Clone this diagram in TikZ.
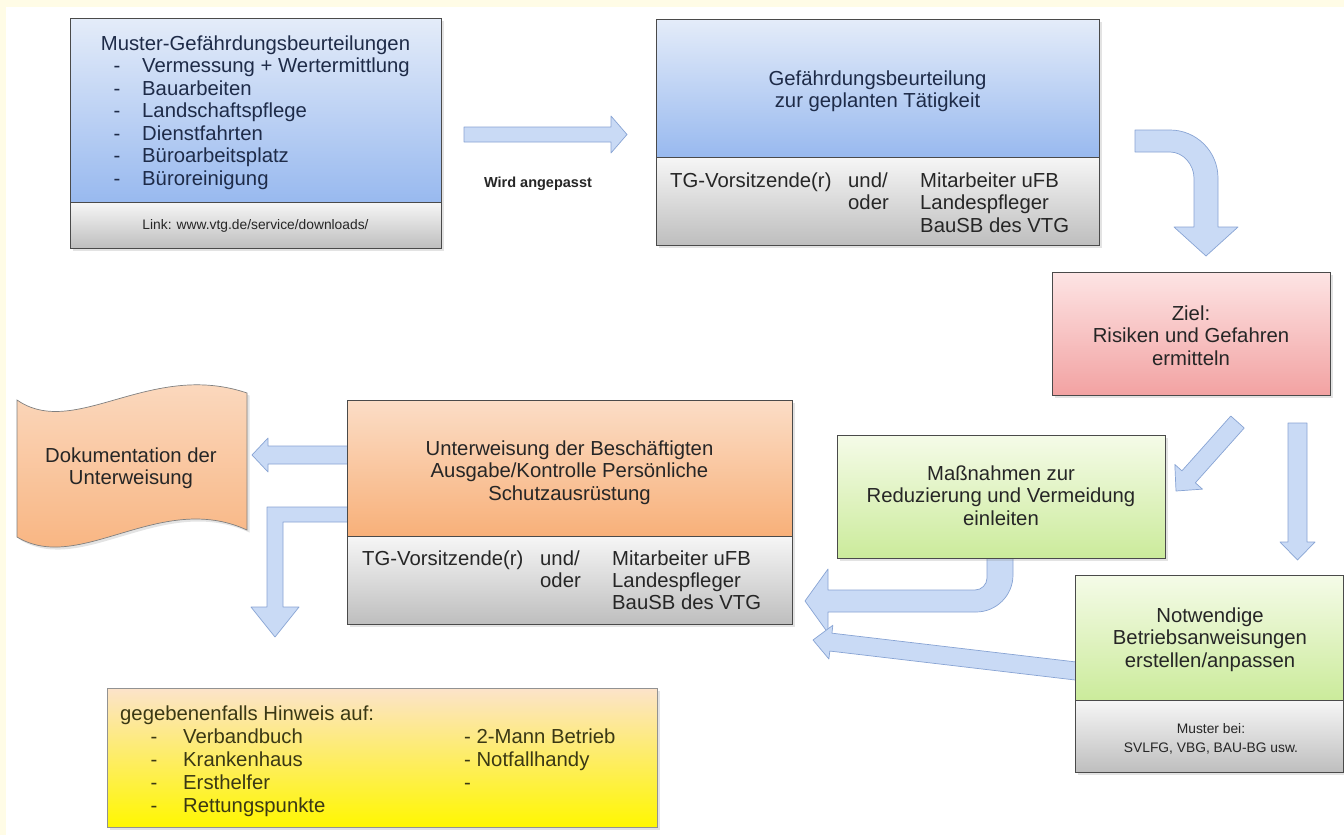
\documentclass[tikz,border=0pt]{standalone}
\usepackage{fontspec}
\setmainfont{Liberation Sans}
\usetikzlibrary{calc,shadows}
\definecolor{cream}{HTML}{FFFCE6}
\definecolor{blueTop}{HTML}{E4ECF9}
\definecolor{blueBot}{HTML}{98B9EF}
\definecolor{grayTop}{HTML}{F6F6F6}
\definecolor{grayBot}{HTML}{BEBEBE}
\definecolor{pinkTop}{HTML}{FDE4E4}
\definecolor{pinkBot}{HTML}{F2A2A2}
\definecolor{greenTop}{HTML}{F5FBE8}
\definecolor{greenBot}{HTML}{CBEB9B}
\definecolor{orTop}{HTML}{FBDDC6}
\definecolor{orBot}{HTML}{F8B079}
\definecolor{yelTop}{HTML}{FCE3CA}
\definecolor{yelBot}{HTML}{FFF700}
\definecolor{arrowFill}{HTML}{C9DAF5}
\definecolor{arrowLine}{HTML}{88A4D4}
\definecolor{boxline}{HTML}{4A4A4A}
\definecolor{textdark}{HTML}{262626}
\definecolor{textblue}{HTML}{1E2B48}
\definecolor{textolive}{HTML}{3A3814}
\newcommand\fbg{\fontsize{20.3}{22.5}\selectfont}
\newcommand\fsm{\fontsize{13.8}{16}\selectfont}
\newcommand\blockarrow[5]{%
  \coordinate (hb) at ($(#2)!#5!(#1)$);
  \path[barrow] ($(#1)!#3!90:(#2)$) -- ($(hb)!#3!90:(#2)$) -- ($(hb)!#4!90:(#2)$)
    -- (#2) -- ($(hb)!#4!-90:(#2)$) -- ($(hb)!#3!-90:(#2)$) -- ($(#1)!#3!-90:(#2)$) -- cycle;}
\tikzset{
  basebox/.style={draw=boxline, line width=0.7pt, inner sep=0pt, anchor=north west,
    drop shadow={opacity=0.22, shadow xshift=2.5pt, shadow yshift=-2.5pt}},
  bluebox/.style={basebox, top color=blueTop, bottom color=blueBot},
  graybox/.style={basebox, top color=grayTop, bottom color=grayBot},
  pinkbox/.style={basebox, top color=pinkTop, bottom color=pinkBot},
  greenbox/.style={basebox, top color=greenTop, bottom color=greenBot},
  orbox/.style={basebox, top color=orTop, bottom color=orBot},
  yelbox/.style={basebox, top color=yelTop, bottom color=yelBot},
  txt/.style={inner sep=0pt, anchor=base, font=\fbg, text=textdark},
  txtw/.style={txt, anchor=base west},
  btxt/.style={txt, text=textblue},
  btxtw/.style={txtw, text=textblue},
  smalltxt/.style={inner sep=0pt, anchor=base, font=\fsm, text=textdark},
  barrow/.style={fill=arrowFill, draw=arrowLine, line width=0.7pt, line join=round},
}
\begin{document}
\begin{tikzpicture}[x=1pt,y=-1pt]
\useasboundingbox (0,0) rectangle (1344,835);
\fill[cream] (0,0) rectangle (1344,835);
\fill[white] (6,7) rectangle (1344,835);

% ---------- arrows (drawn below boxes) ----------
\coordinate (a1s) at (464,134.5);
\coordinate (a1e) at (627,134.5);
\blockarrow{a1s}{a1e}{7.5pt}{18.5pt}{16pt}
% curved arrow box2 -> Ziel
\path[barrow] (1135,130) -- (1170,130) .. controls (1196.5,130) and (1218,151.5) .. (1218,178)
  -- (1218,227) -- (1238,227) -- (1206,256) -- (1174,227) -- (1194,227) -- (1194,178)
  .. controls (1194,164.7) and (1183.3,152) .. (1170,152) -- (1135,152) -- cycle;
% Ziel -> Massnahmen (diagonal)
\coordinate (a3s) at (1237.5,422);
\coordinate (a3e) at (1176,491);
\blockarrow{a3s}{a3e}{9pt}{18.5pt}{19pt}
% Ziel -> Notwendige (vertical)
\coordinate (a4s) at (1297.5,423);
\coordinate (a4e) at (1297.5,560);
\blockarrow{a4s}{a4e}{9.5pt}{17.5pt}{18pt}
% Massnahmen -> Unterweisung (curved)
\path[barrow] (987,550) -- (1013,550) -- (1013,575) .. controls (1013,595.4) and (996.4,612) .. (976,612)
  -- (828,612) -- (828,633) -- (805,601) -- (828,569) -- (828,590) -- (975,590)
  .. controls (981.6,590) and (987,584.6) .. (987,578) -- cycle;
% Notwendige -> Unterweisung
\coordinate (a6s) at (1080,671.5);
\coordinate (a6e) at (813,640);
\blockarrow{a6s}{a6e}{9pt}{17pt}{18pt}
% Unterweisung -> Dokumentation
\coordinate (a7s) at (350,455);
\coordinate (a7e) at (252,455);
\blockarrow{a7s}{a7e}{9pt}{17pt}{16pt}
% Unterweisung -> Hinweis (L-shaped)
\path[barrow] (350,507) -- (267,507) -- (267,607) -- (251,607) -- (275,637) -- (299,607)
  -- (283,607) -- (283,522) -- (350,522) -- cycle;

% ---------- Box 1 ----------
\node[bluebox, minimum width=371pt, minimum height=184pt] (b1) at (70,18) {};
\node[graybox, minimum width=371pt, minimum height=46pt] (b1f) at (70,202) {};
\node[btxt] (b1t) at (255.5,50) {Muster-Gefährdungsbeurteilungen};
\foreach \yy/\tt [count=\k] in {72.5/Vermessung + Wertermittlung, 95/Bauarbeiten,
  117.5/Landschaftspflege, 140/Dienstfahrten, 162.5/Büroarbeitsplatz, 185/Büroreinigung}{
  \node[btxt] (b1d\k) at (117,\yy) {-};
  \node[btxtw] (b1i\k) at (142,\yy) {\tt};
}
\node[smalltxt] (b1l) at (255.5,229) {Link: www.vtg.de/service/downloads/};

\node[inner sep=0pt, anchor=base, font=\fontsize{14.5}{16}\selectfont\bfseries, text=textdark] (wa) at (538,187) {Wird angepasst};

% ---------- Box 2 ----------
\node[bluebox, minimum width=443pt, minimum height=138pt] (b2) at (656,19) {};
\node[graybox, minimum width=443pt, minimum height=88pt] (b2f) at (656,157) {};
\node[btxt] (b2t1) at (877.5,85) {Gefährdungsbeurteilung};
\node[btxt] (b2t2) at (877.5,107) {zur geplanten Tätigkeit};
\node[txtw] (b2c1) at (670,187) {TG-Vorsitzende(r)};
\node[txtw] (b2c2a) at (848,187) {und/};
\node[txtw] (b2c2b) at (848,209.5) {oder};
\node[txtw] (b2c3a) at (920,187) {Mitarbeiter uFB};
\node[txtw] (b2c3b) at (920,209.5) {Landespfleger};
\node[txtw] (b2c3c) at (920,232) {BauSB des VTG};

% ---------- Ziel ----------
\node[pinkbox, minimum width=278pt, minimum height=123pt] (ziel) at (1052,272) {};
\node[txt] (z1) at (1191,320) {Ziel:};
\node[txt] (z2) at (1191,342.5) {Risiken und Gefahren};
\node[txt] (z3) at (1191,365) {ermitteln};

% ---------- Massnahmen ----------
\node[greenbox, minimum width=328pt, minimum height=123pt] (mass) at (837,435) {};
\node[txt] (m1) at (1001,480) {Maßnahmen zur};
\node[txt] (m2) at (1001,502.5) {Reduzierung und Vermeidung};
\node[txt] (m3) at (1001,525) {einleiten};

% ---------- Notwendige ----------
\node[greenbox, minimum width=268pt, minimum height=125pt] (notw) at (1075,575) {};
\node[graybox, minimum width=268pt, minimum height=72pt] (notwf) at (1075,700) {};
\node[txt] (n1) at (1210,622) {Notwendige};
\node[txt] (n2) at (1210,644.5) {Betriebsanweisungen};
\node[txt] (n3) at (1210,667) {erstellen/anpassen};
\node[smalltxt] (n4) at (1211,733) {Muster bei:};
\node[smalltxt] (n5) at (1211,752) {SVLFG, VBG, BAU-BG usw.};

% ---------- Unterweisung ----------
\node[orbox, minimum width=445pt, minimum height=136pt] (unt) at (347,400) {};
\node[graybox, minimum width=445pt, minimum height=88pt] (untf) at (347,536) {};
\node[txt] (u1) at (569.5,455) {Unterweisung der Beschäftigten};
\node[txt] (u2) at (569.5,477.5) {Ausgabe/Kontrolle Persönliche};
\node[txt] (u3) at (569.5,500) {Schutzausrüstung};
\node[txtw] (uc1) at (362,565) {TG-Vorsitzende(r)};
\node[txtw] (uc2a) at (540,565) {und/};
\node[txtw] (uc2b) at (540,587) {oder};
\node[txtw] (uc3a) at (612,565) {Mitarbeiter uFB};
\node[txtw] (uc3b) at (612,587) {Landespfleger};
\node[txtw] (uc3c) at (612,609) {BauSB des VTG};

% ---------- Dokumentation (punched tape shape) ----------
\path[draw=boxline!70, line width=0.7pt, top color=orTop, bottom color=orBot,
  drop shadow={opacity=0.22, shadow xshift=2.5pt, shadow yshift=-2.5pt}]
  (17,400) .. controls (75,440) and (150,360) .. (247,393) -- (247,530)
  .. controls (160,490) and (80,575) .. (17,537) -- cycle;
\node[txt] (doc1) at (131,462) {Dokumentation der};
\node[txt] (doc2) at (131,484) {Unterweisung};

% ---------- Hinweis (yellow) ----------
\node[yelbox, draw=boxline!60, minimum width=550pt, minimum height=139pt] (hin) at (107,688) {};
\node[txtw, text=textolive] (h0) at (120,720) {gegebenenfalls Hinweis auf:};
\foreach \yy/\tt [count=\k] in {743/Verbandbuch, 766/Krankenhaus, 789/Ersthelfer, 812/Rettungspunkte}{
  \node[txt, text=textolive] (hd\k) at (154,\yy) {-};
  \node[txtw, text=textolive] (hi\k) at (183,\yy) {\tt};
}
\node[txtw, text=textolive] (hr1) at (464,743) {- 2-Mann Betrieb};
\node[txtw, text=textolive] (hr2) at (464,766) {- Notfallhandy};
\node[txtw, text=textolive] (hr3) at (464,789) {-};
\end{tikzpicture}
\end{document}
